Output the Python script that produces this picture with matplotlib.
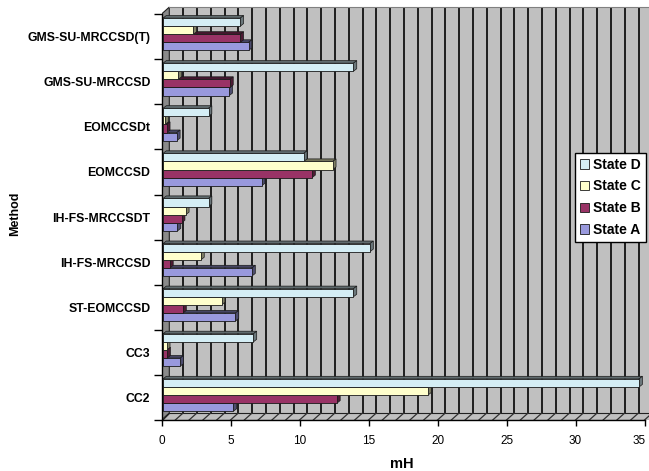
import numpy as np
import matplotlib
matplotlib.use("Agg")
import matplotlib.pyplot as plt
import matplotlib.transforms as mtransforms
from matplotlib.patches import Polygon
from matplotlib.colors import to_rgb

plt.rcParams['font.family'] = ['Liberation Sans', 'DejaVu Sans']

# ---- data -------------------------------------------------------------
methods = ["CC2", "CC3", "ST-EOMCCSD", "IH-FS-MRCCSD", "IH-FS-MRCCSDT",
           "EOMCCSD", "EOMCCSDt", "GMS-SU-MRCCSD", "GMS-SU-MRCCSD(T)"]
state_a = [5.1, 1.25, 5.25, 6.45, 1.05, 7.15, 1.0, 4.8, 6.2]
state_b = [12.6, 0.3, 1.45, 0.5, 1.35, 10.8, 0.27, 4.85, 5.6]
state_c = [19.2, 0.27, 4.25, 2.75, 1.65, 12.3, 0.15, 1.1, 2.2]
state_d = [34.5, 6.55, 13.8, 15.0, 3.3, 10.2, 3.3, 13.8, 5.6]
series_names = ["State A", "State B", "State C", "State D"]
series_values = [state_a, state_b, state_c, state_d]
series_colors = ["#9999DD", "#993366", "#FFFFCC", "#D5EEF5"]
x_ticks = [0, 5, 10, 15, 20, 25, 30, 35]

# ---- figure / axes ----------------------------------------------------
W, H = 649, 471
fig = plt.figure(figsize=(W / 100, H / 100), dpi=100)
fig.patch.set_facecolor("white")

px_x = 13.8     # pixels per mH
px_y = 45.1     # pixels per category
x0_px, y0_px = 161.5, 420.0
ax = fig.add_axes([x0_px / W, (H - y0_px) / H, (W - x0_px) / W, y0_px / H])
ax.set_xlim(0, (W - x0_px) / px_x)
ax.set_ylim(0, y0_px / px_y)
ax.set_facecolor("none")

n = len(methods)
xmax = 35
# depth of the 3-D box (back wall offset)
dx, dy = 7.8 / px_x, 7.0 / px_y

wall_gray = "#C0C0C0"
grid_col = "#1E1E1E"

# back wall
ax.add_patch(Polygon([(dx, dy), (xmax + 2, dy), (xmax + 2, n + dy), (dx, n + dy)],
                     closed=True, facecolor=wall_gray, edgecolor="none", zorder=0))
# left side wall
ax.add_patch(Polygon([(0, 0), (dx, dy), (dx, n + dy), (0, n)],
                     closed=True, facecolor="#8A8A8A", edgecolor="#202020",
                     lw=0.8, zorder=1))
# floor
ax.add_patch(Polygon([(0, 0), (xmax + 2, 0), (xmax + 2, dy), (dx, dy)],
                     closed=True, facecolor=wall_gray, edgecolor="#202020",
                     lw=0.8, zorder=1))
# gridlines on wall and floor
for k in range(1, xmax + 2):
    ax.plot([k + dx, k + dx], [dy, n + dy], color=grid_col, lw=1.4, zorder=2,
            solid_capstyle="butt")
    ax.plot([k, k + dx], [0, dy], color="#303030", lw=0.9, zorder=2)
ax.plot([dx, xmax + 2], [n + dy, n + dy], color="#808080", lw=0.8, zorder=2)

# ---- bars ---------------------------------------------------------------
bar_h = 8.1 / px_y
bottom_off = 8.7 / px_y
ox = 1.5 / px_x               # front face starts slightly behind the axis
sdx, sdy = 3.3 / px_x, 2.6 / px_y


def shade(c, f):
    r, g, b = to_rgb(c)
    return (r * f, g * f, b * f)


handles = []
ypos = np.arange(n)
for j, (name, vals, col) in enumerate(zip(series_names, series_values, series_colors)):
    yb = ypos + bottom_off + j * bar_h
    z = 3 + j
    cont = ax.barh(yb, vals, height=bar_h, left=ox, align="edge", color=col,
                   edgecolor="#1A1A1A", linewidth=0.6, zorder=z + 0.5, label=name)
    handles.append(cont)
    for y, v in zip(yb, vals):
        xe = ox + v
        # right-hand side face
        ax.add_patch(Polygon([(xe, y), (xe + sdx, y + sdy), (xe + sdx, y + bar_h + sdy),
                              (xe, y + bar_h)], closed=True,
                             facecolor=shade(col, 0.5), edgecolor="#1A1A1A",
                             lw=0.5, zorder=z + 0.4))
        # top face
        ax.add_patch(Polygon([(ox, y + bar_h), (xe, y + bar_h), (xe + sdx, y + bar_h + sdy),
                              (ox + sdx, y + bar_h + sdy)], closed=True,
                             facecolor=shade(col, 0.45), edgecolor="#1A1A1A",
                             lw=0.5, zorder=z + 0.3))

# ---- axes decorations -------------------------------------------------
for s in ["top", "right"]:
    ax.spines[s].set_visible(False)
ax.spines["left"].set_bounds(0, n)
ax.spines["bottom"].set_bounds(0, xmax)
ax.spines["left"].set_linewidth(1.0)
ax.spines["bottom"].set_linewidth(1.0)
ax.spines["left"].set_zorder(20)
ax.spines["bottom"].set_zorder(20)

ax.set_xticks(x_ticks)
ax.set_xticklabels([str(t) for t in x_ticks], fontsize=8.5)
ax.tick_params(axis="x", direction="out", length=4.5, width=1.0, pad=6)
# keep the last tick label inside the canvas
last = ax.get_xticklabels()[-1]
last.set_transform(last.get_transform() +
                   mtransforms.ScaledTranslation(-5 / 100, 0, fig.dpi_scale_trans))

ax.set_yticks(np.arange(n + 1))
ax.set_yticklabels([])
ax.set_yticks(ypos + 0.5, minor=True)
ax.set_yticklabels(methods, minor=True, fontsize=8.8, fontweight="bold")
ax.tick_params(axis="y", which="major", direction="out", length=5.5, width=1.0)
ax.tick_params(axis="y", which="minor", length=0, pad=8)

fig.text(15 / W, 1 - 214 / H, "Method", rotation=90, ha="center", va="center",
         fontsize=9, fontweight="bold")
fig.text(402 / W, 1 - 464 / H, "mH", ha="center", va="center",
         fontsize=10.5, fontweight="bold")

# ---- legend -------------------------------------------------------------
leg = fig.legend(handles[::-1], series_names[::-1], loc="upper left",
                 bbox_to_anchor=(575 / W, 1 - 153 / H), frameon=True, fancybox=False,
                 edgecolor="black", framealpha=1.0, borderpad=0.35,
                 handlelength=0.65, handleheight=0.65, handletextpad=0.3,
                 labelspacing=0.55, borderaxespad=0,
                 prop={"size": 10, "weight": "bold"})
leg.get_frame().set_linewidth(1.0)

fig.savefig("out.png", dpi=100)
